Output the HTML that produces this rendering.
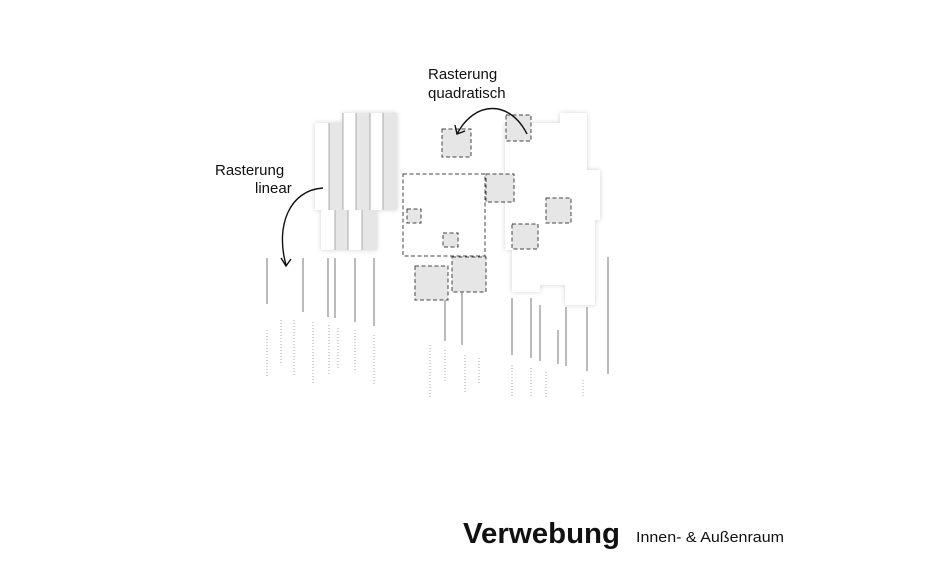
<!DOCTYPE html><html><head><meta charset="utf-8"><style>body{margin:0;background:#fff}svg{display:block}</style></head><body>
<svg width="936" height="585" viewBox="0 0 936 585" xmlns="http://www.w3.org/2000/svg" font-family="Liberation Sans, sans-serif">
<defs><filter id="sh" x="-20%" y="-20%" width="140%" height="140%"><feDropShadow dx="0" dy="0" stdDeviation="2.5" flood-color="#000" flood-opacity="0.18"/></filter></defs>
<g filter="url(#sh)">
<rect x="315" y="123" width="82" height="87" fill="#fff"/>
<rect x="343" y="113" width="54" height="10" fill="#fff"/>
<rect x="321" y="210" width="56" height="40" fill="#fff"/>
</g>
<rect x="329" y="123" width="14" height="87" fill="#e6e6e6"/>
<rect x="356" y="113" width="14" height="97" fill="#e6e6e6"/>
<rect x="383" y="113" width="14" height="97" fill="#e6e6e6"/>
<rect x="335" y="210" width="13" height="40" fill="#e6e6e6"/>
<rect x="362" y="210" width="15" height="40" fill="#e6e6e6"/>
<g stroke="#999" stroke-width="0.8">
<line x1="329" y1="123" x2="329" y2="210"/><line x1="343" y1="113" x2="343" y2="210"/><line x1="356" y1="113" x2="356" y2="210"/><line x1="370" y1="113" x2="370" y2="210"/><line x1="383" y1="113" x2="383" y2="210"/>
<line x1="335" y1="210" x2="335" y2="250"/><line x1="348" y1="210" x2="348" y2="250"/><line x1="362" y1="210" x2="362" y2="250"/>
</g>
<polygon filter="url(#sh)" fill="#fff" points="505,123 560,123 560,113 587,113 587,170 600,170 600,220 595,220 595,305 565,305 565,285 540,285 540,292 512,292 512,250 505,250"/>
<g stroke="#444" stroke-width="1" stroke-dasharray="4,2.5">
<rect x="403" y="174" width="82" height="82" fill="#fff"/>
<rect x="407" y="209" width="14" height="14" fill="#e6e6e6"/>
<rect x="443" y="233" width="15" height="14" fill="#e6e6e6"/>
<rect x="442" y="129" width="29" height="28" fill="#e6e6e6"/>
<rect x="486" y="174" width="28" height="28" fill="#e6e6e6"/>
<rect x="415" y="266" width="33" height="34" fill="#e6e6e6"/>
<rect x="452" y="257" width="34" height="35" fill="#e6e6e6"/>
<rect x="506" y="115" width="25" height="26" fill="#e6e6e6"/>
<rect x="546" y="198" width="25" height="25" fill="#e6e6e6"/>
<rect x="512" y="224" width="26" height="25" fill="#e6e6e6"/>
</g>
<g fill="none" stroke="#111" stroke-width="1.4">
<path d="M323,188 C290,190 275,225 286,265"/>
<path d="M281,258 L286,266 L291,259"/>
<path d="M527,134 C510,100 475,100 457,134"/>
<path d="M455,125 L457,134 L465,131"/>
</g>
<g stroke="#777" stroke-width="1">
<line x1="267" y1="258" x2="267" y2="304"/><line x1="303" y1="258" x2="303" y2="312"/><line x1="328" y1="258" x2="328" y2="317"/><line x1="335" y1="258" x2="335" y2="318"/><line x1="355" y1="258" x2="355" y2="322"/><line x1="374" y1="258" x2="374" y2="326"/>
<line x1="445" y1="300" x2="445" y2="341"/><line x1="462" y1="292" x2="462" y2="345"/>
<line x1="512" y1="298" x2="512" y2="355"/><line x1="531" y1="298" x2="531" y2="358"/><line x1="540" y1="305" x2="540" y2="361"/><line x1="558" y1="330" x2="558" y2="364"/><line x1="566" y1="307" x2="566" y2="366"/><line x1="587" y1="307" x2="587" y2="371"/><line x1="608" y1="257" x2="608" y2="374"/>
</g>
<g stroke="#aaa" stroke-width="1" stroke-dasharray="1,2">
<line x1="267" y1="330" x2="267" y2="377"/><line x1="281" y1="320" x2="281" y2="365"/><line x1="294" y1="320" x2="294" y2="375"/><line x1="313" y1="322" x2="313" y2="383"/><line x1="329" y1="325" x2="329" y2="375"/><line x1="338" y1="328" x2="338" y2="368"/><line x1="355" y1="330" x2="355" y2="372"/><line x1="374" y1="335" x2="374" y2="385"/>
<line x1="430" y1="345" x2="430" y2="398"/><line x1="445" y1="350" x2="445" y2="383"/><line x1="465" y1="355" x2="465" y2="392"/><line x1="479" y1="358" x2="479" y2="383"/>
<line x1="512" y1="365" x2="512" y2="398"/><line x1="531" y1="368" x2="531" y2="398"/><line x1="546" y1="372" x2="546" y2="398"/><line x1="583" y1="380" x2="583" y2="398"/>
</g>
<g fill="#111" font-size="15">
<text x="215" y="175">Rasterung</text><text x="255" y="193">linear</text>
<text x="428" y="79">Rasterung</text><text x="428" y="98">quadratisch</text>
</g>
<text x="463" y="543" font-size="29" font-weight="bold" fill="#111" textLength="157" lengthAdjust="spacingAndGlyphs">Verwebung</text>
<text x="636" y="542" font-size="14.5" fill="#111" textLength="148" lengthAdjust="spacingAndGlyphs">Innen- &amp; Außenraum</text>
</svg>
</body></html>
